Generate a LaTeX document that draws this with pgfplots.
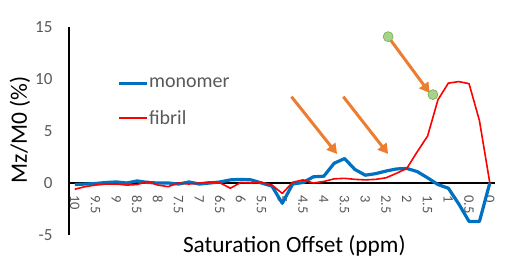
\documentclass[border=0pt]{standalone}
\usepackage{pgfplots}
\pgfplotsset{compat=1.18}
\usetikzlibrary{arrows.meta}
\usepackage{fontspec}
\setmainfont{Carlito}
\definecolor{mblue}{HTML}{0070C0}
\definecolor{orng}{HTML}{ED7D31}
\definecolor{gfill}{HTML}{A9D18E}
\definecolor{gline}{HTML}{70AD47}
\definecolor{tgray}{HTML}{595959}
\pgfplotstableread{
p v
10 -0.15
9.75 -0.1
9.5 -0.05
9.25 0.05
9 0.1
8.75 0.0
8.5 0.2
8.25 0.05
8 0.0
7.75 0.0
7.5 -0.1
7.25 0.1
7 -0.1
6.75 0.0
6.5 0.1
6.25 0.3
6 0.35
5.75 0.3
5.5 0.0
5.25 -0.3
5 -1.95
4.75 -0.1
4.5 0.05
4.25 0.6
4 0.65
3.75 1.9
3.5 2.35
3.25 1.3
3 0.75
2.75 0.9
2.5 1.15
2.25 1.35
2 1.4
1.75 1.1
1.5 0.5
1.25 -0.15
1 -0.5
0.75 -2.0
0.5 -3.7
0.25 -3.7
0 0.0
}\monomer
\pgfplotstableread{
p v
10 -0.6
9.75 -0.35
9.5 -0.2
9.25 -0.1
9 -0.1
8.75 -0.2
8.5 -0.15
8.25 0.15
8 -0.2
7.75 -0.35
7.5 0.0
7.25 -0.1
7 0.0
6.75 0.1
6.5 0.0
6.25 -0.5
6 0.05
5.75 0.0
5.5 0.05
5.25 -0.2
5 -1.0
4.75 0.07
4.5 0.3
4.25 0.0
4 0.15
3.75 0.4
3.5 0.45
3.25 0.35
3 0.3
2.75 0.35
2.5 0.5
2.25 0.93
2 1.4
1.75 3.0
1.5 4.5
1.25 8.0
1 9.6
0.75 9.75
0.5 9.55
0.25 6.0
0 0.0
}\fibril
\begin{document}
\begin{tikzpicture}
\begin{axis}[
  at={(0pt,0pt)}, anchor=south west,
  scale only axis, width=426pt, height=208pt,
  xmin=-0.125, xmax=10.14, ymin=-5, ymax=15,
  x dir=reverse,
  axis x line=middle, axis y line=left,
  axis line style={-, line width=1.5pt, black},
  xtick={0,0.5,1,1.5,2,2.5,3,3.5,4,4.5,5,5.5,6,6.5,7,7.5,8,8.5,9,9.5,10},
  ytick={-5,0,5,10,15},
  major tick length=0pt,
  hide obscured x ticks=false, hide obscured y ticks=false,
  /pgf/number format/assume math mode=true,
  xticklabel style={rotate=-90, anchor=west, font=\fontsize{14.5}{14.5}\selectfont, text=tgray},
  xticklabel shift=9pt,
  yticklabel style={font=\fontsize{17}{17}\selectfont, text=tgray},
  yticklabel shift=13pt,
  every axis x label/.style={at={(axis description cs:0.529,0)}, anchor=base, yshift=-17pt, font=\fontsize{23.3}{23.3}\selectfont},
  every axis y label/.style={at={(axis description cs:0,0.505)}, rotate=90, anchor=base, yshift=42pt, font=\fontsize{23.5}{23.5}\selectfont},
  xlabel={Saturation Offset (ppm)},
  ylabel={Mz/M0 (\%)},
  legend style={draw=none, fill=none, at={(axis cs:8.99,10.2)}, anchor=north west, inner sep=0pt,
    font=\fontsize{20}{20}\selectfont, text=tgray, row sep=19pt, nodes={inner sep=1pt}},
  legend cell align=left,
  legend image code/.code={\draw[#1] (0pt,0pt) -- (28pt,0pt);},
]
\addplot[mblue, line width=3.2pt, line join=round] table[x=p, y=v] {\monomer};
\addlegendentry{monomer}
\addplot[red, line width=1.6pt, line join=round] table[x=p, y=v] {\fibril};
\addlegendentry{fibril}
\addplot[forget plot, orng, line width=3pt, -{Triangle[length=10pt,width=11pt]}] coordinates {(4.78,8.3) (3.68,2.79)};
\addplot[forget plot, orng, line width=3pt, -{Triangle[length=10pt,width=11pt]}] coordinates {(3.53,8.3) (2.45,2.79)};
\addplot[forget plot, orng, line width=3pt, -{Triangle[length=10pt,width=11pt]}] coordinates {(2.45,14.07) (1.45,8.66)};
\addplot[forget plot, only marks, mark=*, mark size=5pt, mark options={fill=gfill, draw=gline, line width=0.6pt}] coordinates {(2.45,14.07) (1.37,8.5)};
\end{axis}
\path[use as bounding box] (-69pt,-35pt) rectangle (439pt,235pt);
\end{tikzpicture}
\end{document}
